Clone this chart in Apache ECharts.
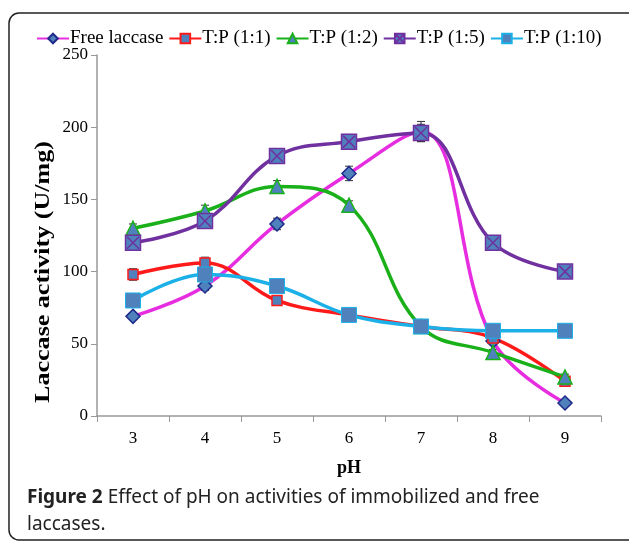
<!DOCTYPE html>
<html>
<head>
<meta charset="utf-8">
<script src="https://cdn.jsdelivr.net/npm/echarts@6/dist/echarts.min.js"></script>
<style>
  html, body { margin: 0; padding: 0; background: #fff; }
  #main { width: 629px; height: 543px; }
</style>
</head>
<body>
<div id="main"></div>
<script>
// pH categories
const phLabels = ['3', '4', '5', '6', '7', '8', '9']
// activity values (U/mg)
const freeLaccase = [69, 90, 133, 168, 197, 52, 9]
const tp11 = [98, 106, 80, 70, 62, 54, 24]
const tp12 = [130, 142, 159, 146, 62, 44, 27]
const tp15 = [120, 135, 180, 190, 196, 120, 100]
const tp110 = [80, 98, 90, 70, 62, 59, 59]
// error bar half widths
const errFree = [2, 3, 4, 5, 7, 2, 1]
const errTp11 = [4, 4, 2, 2, 2, 2, 2]
const errTp12 = [3, 4, 4, 3, 2, 2, 2]
const errTp15 = [3, 4, 5, 5, 6, 2, 2]
const errTp110 = [3, 3, 4, 2, 2, 2, 2]

const markerFill = '#4f81bd'
const serif = 'Liberation Serif'

const myChart = echarts.init(document.getElementById('main'))

// error bars drawn through the axes
function errorSeries(values, errs) {
  return {
    type: 'custom',
    silent: true,
    z: 1,
    data: values.map((v, i) => [i, v - errs[i], v + errs[i]]),
    renderItem: function(params, api) {
      const lo = api.coord([api.value(0), api.value(1)])
      const hi = api.coord([api.value(0), api.value(2)])
      const w = 4
      const style = { stroke: '#333', lineWidth: 1 }
      return {
        type: 'group',
        children: [
          { type: 'line', shape: { x1: hi[0], y1: hi[1], x2: lo[0], y2: lo[1] }, style },
          { type: 'line', shape: { x1: hi[0] - w, y1: hi[1], x2: hi[0] + w, y2: hi[1] }, style },
          { type: 'line', shape: { x1: lo[0] - w, y1: lo[1], x2: lo[0] + w, y2: lo[1] }, style }
        ]
      }
    }
  }
}

function lineSeries(name, data, color, symbol, size, border, borderWidth) {
  return {
    name: name,
    type: 'line',
    data: data,
    smooth: 0.4,
    z: 2,
    symbol: symbol,
    symbolSize: size,
    showAllSymbol: true,
    lineStyle: { color: color, width: 3.5 },
    itemStyle: { color: markerFill, borderColor: border, borderWidth: borderWidth }
  }
}

const crossPath = 'path://M0,0L10,0L10,10L0,10ZM1,1L9,9M9,1L1,9'

const option = {
  animation: false,
  backgroundColor: '#fff',
  graphic: [
    {
      type: 'rect',
      shape: { x: 9, y: 13, width: 640, height: 527, r: 10 },
      style: { fill: 'none', stroke: '#222', lineWidth: 1.5 },
      z: -1
    },
    {
      // y axis title, stretched along its length like the source figure
      type: 'text',
      x: 44,
      y: 272,
      rotation: Math.PI / 2,
      scaleX: 1.24,
      style: {
        text: 'Laccase activity (U/mg)',
        fontFamily: serif,
        fontWeight: 'bold',
        fontSize: 21,
        fill: '#000',
        align: 'center',
        verticalAlign: 'middle'
      }
    },
    {
      type: 'text',
      left: 27,
      top: 484,
      style: {
        text: '{b|Figure 2} Effect of pH on activities of immobilized and free\nlaccases.',
        rich: {
          b: { fontWeight: 'bold', fontSize: 19, fontFamily: 'Noto Sans', fill: '#222' }
        },
        fontSize: 19,
        lineHeight: 27,
        fontFamily: 'Noto Sans',
        fill: '#222'
      }
    }
  ],
  legend: {
    top: 24,
    left: 31,
    itemGap: 5,
    itemWidth: 32,
    itemHeight: 12,
    textStyle: { fontFamily: serif, fontSize: 19, color: '#000', padding: [0, 0, 0, -4] },
    data: ['Free laccase', 'T:P (1:1)', 'T:P (1:2)', 'T:P (1:5)', 'T:P (1:10)']
  },
  grid: { left: 97, right: 28, top: 55, bottom: 127 },
  xAxis: {
    type: 'category',
    data: phLabels,
    boundaryGap: true,
    name: 'pH',
    nameLocation: 'middle',
    nameGap: 43,
    nameTextStyle: { fontFamily: serif, fontWeight: 'bold', fontSize: 18, color: '#000' },
    axisLine: { lineStyle: { color: '#999', width: 1.5 } },
    axisTick: { show: true, alignWithLabel: false, length: 6, lineStyle: { color: '#999' } },
    axisLabel: { fontFamily: serif, fontSize: 17, color: '#000', margin: 14 }
  },
  yAxis: {
    type: 'value',
    min: 0,
    max: 250,
    interval: 50,
    axisLine: { show: true, lineStyle: { color: '#999', width: 1.5 } },
    axisTick: { show: true, length: 6, lineStyle: { color: '#999' } },
    splitLine: { show: false },
    axisLabel: { fontFamily: serif, fontSize: 17, color: '#000', margin: 9 }
  },
  series: [
    errorSeries(freeLaccase, errFree),
    errorSeries(tp11, errTp11),
    errorSeries(tp12, errTp12),
    errorSeries(tp15, errTp15),
    errorSeries(tp110, errTp110),
    lineSeries('Free laccase', freeLaccase, '#e62ee0', 'diamond', 14, '#1f2a8a', 1.5),
    lineSeries('T:P (1:1)', tp11, '#ff1a1a', 'rect', 10, '#ff1a1a', 1.5),
    lineSeries('T:P (1:2)', tp12, '#19b019', 'triangle', 14, '#19b019', 1.5),
    lineSeries('T:P (1:5)', tp15, '#7030a0', crossPath, 15, '#7030a0', 1.5),
    lineSeries('T:P (1:10)', tp110, '#1cb0e8', 'rect', 15, '#1cb0e8', 1)
  ]
}
option && myChart.setOption(option)
</script>
</body>
</html>
